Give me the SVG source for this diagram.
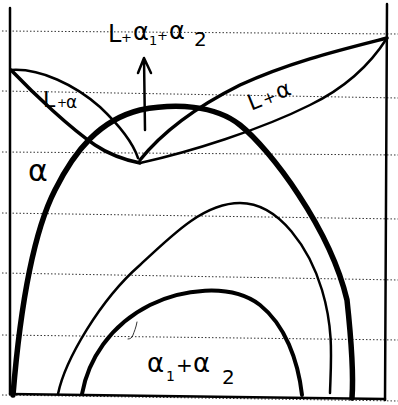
<svg xmlns="http://www.w3.org/2000/svg" width="398" height="405" viewBox="0 0 398 405">
<style>
.dot{stroke:#333;stroke-width:1;stroke-dasharray:1.5 2;fill:none}
.ln{stroke:#000;fill:none;stroke-linecap:round;stroke-linejoin:round}
.lbl{font-family:"DejaVu Sans","Liberation Sans",sans-serif;fill:#000}
</style>
<rect width="398" height="405" fill="#fff"/>
<g id="grid">
<line class="dot" x1="2" y1="31" x2="398" y2="34"/>
<line class="dot" x1="2" y1="91" x2="398" y2="98"/>
<line class="dot" x1="2" y1="152" x2="398" y2="155"/>
<line class="dot" x1="2" y1="213" x2="398" y2="219"/>
<line class="dot" x1="2" y1="273" x2="398" y2="280"/>
<line class="dot" x1="2" y1="335" x2="398" y2="340"/>
<line class="dot" x1="2" y1="395" x2="398" y2="401"/>
</g>
<g id="frame">
<line class="ln" stroke-width="2.5" x1="10" y1="8" x2="10" y2="394"/>
<line class="ln" stroke-width="2.5" x1="387" y1="4" x2="385" y2="400"/>
<line class="ln" stroke-width="2.5" x1="10" y1="394" x2="385" y2="399"/>
</g>
<g id="connectors">
<path id="alpha-solvus" class="ln" stroke-width="5.5" d="M13,395 C20,310 32,235 55,190 C75,150 100,120 140,110 C175,103 215,105 240,125 C270,149 330,228 347,300 C351,337 354,370 352,398"/>
<path id="middle-dome" class="ln" stroke-width="2.5" d="M58,394 C65,360 100,300 140,265 C175,232 205,203 240,203 C280,203 310,250 322,290 C334,330 331,360 330,393"/>
<path id="inner-dome" class="ln" stroke-width="4" d="M82,394 C88,360 110,325 150,305 C180,290 230,282 260,305 C285,325 298,360 302,395"/>
<path id="left-upper" class="ln" stroke-width="2.5" d="M11,70 C40,68 75,85 100,107 C118,124 132,140 138,158"/>
<path id="left-lower" class="ln" stroke-width="3.5" d="M11,70 C35,95 70,128 95,145 C110,155 125,160 140,163"/>
<path id="right-upper" class="ln" stroke-width="3.5" d="M140,160 C160,135 190,110 240,85 C290,62 340,50 387,38"/>
<path id="right-lower" class="ln" stroke-width="2.5" d="M140,163 C190,152 260,130 310,105 C345,88 370,65 387,38"/>
<path id="arrow" class="ln" stroke-width="2.5" d="M145,130 L144,58 M138,73 L144,58 L151,73"/>
<path id="squiggle" class="ln" stroke="#555" stroke-width="0.8" d="M137,322 C136,328 134,332 133,335 C132,338 130,339 128,339"/>
</g>
<g id="label-top">
<text class="lbl" font-size="24"><tspan x="108" y="42">L</tspan><tspan x="121" y="42" font-size="13">+</tspan><tspan x="133" y="40">α</tspan><tspan x="149" y="45" font-size="13">1</tspan><tspan x="157" y="40" font-size="13">+</tspan><tspan x="169" y="39">α</tspan><tspan x="194" y="46" font-size="20">2</tspan></text>
</g>
<g id="label-left-lens">
<text class="lbl" font-size="22"><tspan x="43" y="107">L</tspan><tspan x="57" y="107" font-size="12">+</tspan><tspan x="66" y="108" font-size="17">α</tspan></text>
</g>
<g id="label-right-lens">
<text class="lbl" font-size="22" transform="rotate(-22 253 110)"><tspan x="251" y="110">L</tspan><tspan x="266" y="110" font-size="16">+</tspan><tspan x="281" y="110">α</tspan></text>
</g>
<g id="label-alpha">
<text class="lbl" font-size="30" x="28" y="181">α</text>
</g>
<g id="label-bottom">
<text class="lbl" font-size="26"><tspan x="147" y="372">α</tspan><tspan x="166" y="381" font-size="14">1</tspan><tspan x="176" y="372" font-size="20">+</tspan><tspan x="193" y="372">α</tspan><tspan x="222" y="384" font-size="20">2</tspan></text>
</g>
</svg>
